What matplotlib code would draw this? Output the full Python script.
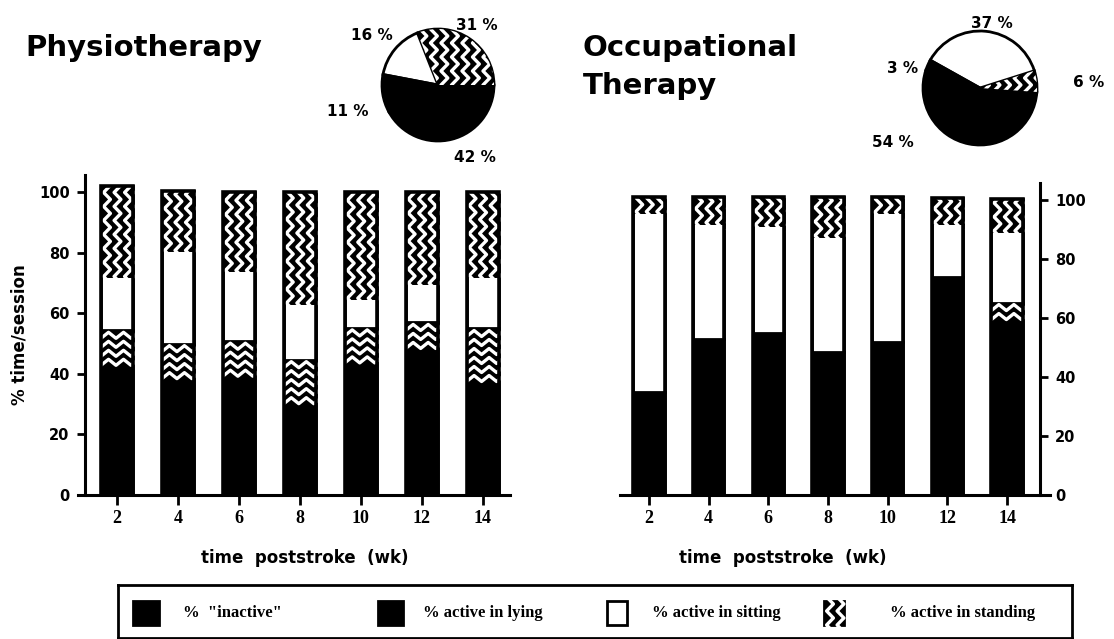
import matplotlib

matplotlib.use("Agg")

import matplotlib.pyplot as plt
import numpy as np
from matplotlib.lines import Line2D
from matplotlib.patches import Rectangle
from matplotlib.transforms import IdentityTransform

weeks = [2, 4, 6, 8, 10, 12, 14]
categories = ['%  "inactive"', "% active in lying", "% active in sitting", "% active in standing"]

# physiotherapy, % of session per category
pt_inactive = [44.0, 42.3, 41.4, 33.5, 45.6, 49.5, 39.6]
pt_lying = [10.4, 7.7, 9.4, 11.2, 9.6, 7.5, 15.4]
pt_sitting = [17.8, 30.8, 23.4, 18.7, 9.8, 13.0, 17.5]
pt_standing = [30.0, 19.5, 25.8, 36.6, 35.0, 30.0, 27.5]

# occupational therapy
ot_inactive = [35.0, 53.0, 55.0, 48.5, 52.0, 74.0, 60.5]
ot_lying = [0.0, 0.0, 0.0, 0.0, 0.0, 0.0, 4.7]
ot_sitting = [61.0, 39.3, 36.5, 39.4, 43.8, 18.3, 24.3]
ot_standing = [5.0, 8.7, 9.5, 13.0, 5.2, 8.3, 10.8]

# overall shares for the pies (same order as categories)
pt_share = [42, 11, 16, 31]
ot_share = [54, 3, 37, 6]

W, H = 1114, 639
fills = ["black", "black", "white", "black"]
patterns = [None, "rows", None, "cols"]
SANS = "DejaVu Sans"
SERIF = "Liberation Serif"

fig = plt.figure(figsize=(W / 100, H / 100), dpi=100)
to_pattern = []


def px_axes(x0, y0, x1, y1):
    # axes from pixel box (top-left origin)
    return fig.add_axes([x0 / W, 1 - y1 / H, (x1 - x0) / W, (y1 - y0) / H])


def stacked(ax, segments):
    bottom = np.zeros(len(weeks))
    for vals, fill, pat in zip(segments, fills, patterns):
        vals = np.asarray(vals)
        bars = ax.bar(weeks, vals, width=1.05, bottom=bottom, color=fill,
                      edgecolor="black", linewidth=2, zorder=2)
        if pat:
            for b, v in zip(bars, vals):
                if v > 0:
                    to_pattern.append((ax, b, pat))
        bottom = bottom + vals
    ax.bar(weeks, bottom, width=1.05, fill=False, edgecolor="black", linewidth=2.6, zorder=4)


def wavy(ax, patch, kind):
    bb = patch.get_window_extent()
    if kind == "cols":
        step, half, amp = 10.5, 7.0, 3.4
        for xc in np.arange(bb.x0 + 6, bb.x1 + step, step):
            ys = np.arange(bb.y0 - half, bb.y1 + 2 * half, half)
            xs = xc + amp * (-1.0) ** np.arange(len(ys))
            ln = Line2D(xs, ys, color="white", linewidth=2.4, transform=IdentityTransform(), zorder=3)
            ln.set_clip_path(patch)
            ax.add_artist(ln)
    else:
        step, half, amp = 9.0, 7.5, 3.0
        for yc in np.arange(bb.y1 - 5, bb.y0 - step, -step):
            xs = np.arange(bb.x0 - half, bb.x1 + 2 * half, half)
            ys = yc + amp * (-1.0) ** np.arange(len(xs))
            ln = Line2D(xs, ys, color="white", linewidth=2.4, transform=IdentityTransform(), zorder=3)
            ln.set_clip_path(patch)
            ax.add_artist(ln)


def style_axes(ax, side):
    ax.set_ylim(0, 105.7)
    ax.set_yticks([0, 20, 40, 60, 80, 100])
    ax.set_xticks(weeks)
    for s in ("top", "left", "right"):
        ax.spines[s].set_visible(False)
    ax.spines[side].set_visible(True)
    for s in ("bottom", side):
        ax.spines[s].set_linewidth(2.2)
    ax.tick_params(axis="x", length=7, width=2, pad=4)
    ax.tick_params(axis="y", length=6, width=2, pad=5)
    for t in ax.get_xticklabels():
        t.set_fontfamily(SERIF)
        t.set_fontweight("bold")
        t.set_fontsize(13)
    for t in ax.get_yticklabels():
        t.set_fontfamily(SANS)
        t.set_fontweight("bold")
        t.set_fontsize(10.5)


# left panel
ax1 = px_axes(78, 175, 510, 495)
stacked(ax1, [pt_inactive, pt_lying, pt_sitting, pt_standing])
ax1.set_xlim(0.72, 14.9)
ax1.spines["left"].set_position(("data", 0.95))
style_axes(ax1, "left")

# right panel
ax2 = px_axes(620, 183, 1050, 495)
stacked(ax2, [ot_inactive, ot_lying, ot_sitting, ot_standing])
ax2.set_xlim(1.03, 15.44)
ax2.spines["right"].set_position(("data", 15.1))
ax2.yaxis.tick_right()
style_axes(ax2, "right")

# axis labels
fig.text(20 / W, 1 - 335 / H, "% time/session", rotation=90, ha="center", va="center",
         fontfamily=SANS, fontweight="bold", fontsize=12)
fig.text(305 / W, 1 - 558 / H, "time  poststroke  (wk)", ha="center", va="center",
         fontfamily=SANS, fontweight="bold", fontsize=12)
fig.text(783 / W, 1 - 558 / H, "time  poststroke  (wk)", ha="center", va="center",
         fontfamily=SANS, fontweight="bold", fontsize=12)

# titles
fig.text(25 / W, 1 - 56 / H, "Physiotherapy", ha="left", va="baseline",
         fontfamily=SANS, fontweight="bold", fontsize=21)
fig.text(583 / W, 1 - 56 / H, "Occupational", ha="left", va="baseline",
         fontfamily=SANS, fontweight="bold", fontsize=21)
fig.text(583 / W, 1 - 94 / H, "Therapy", ha="left", va="baseline",
         fontfamily=SANS, fontweight="bold", fontsize=21)


def pie(cx, cy, r, shares, start, label_pos):
    pad = 1.1
    ax = px_axes(cx - r * pad, cy - r * pad, cx + r * pad, cy + r * pad)
    wedges, _ = ax.pie(shares[::-1], colors=fills[::-1], startangle=start, counterclock=True,
                       wedgeprops=dict(edgecolor="black", linewidth=2))
    ax.set_xlim(-pad, pad)
    ax.set_ylim(-pad, pad)
    ax.set_aspect("equal")
    # only the standing share carries the wavy fill in the pies
    to_pattern.append((ax, wedges[0], "cols"))
    for v, (lx, ly) in zip(shares, label_pos):
        ax.text(lx, ly, f"{v} %", ha="center", va="center", fontfamily=SANS,
                fontweight="bold", fontsize=11, clip_on=False)


pie(438, 85, 56, pt_share, 0, [(0.66, -1.3), (-1.62, -0.48), (-1.18, 0.89), (0.7, 1.07)])
pie(980, 88, 57, ot_share, -4, [(-1.53, -0.95), (-1.35, 0.35), (0.21, 1.14), (1.9, 0.09)])

# legend box
lax = px_axes(118, 585, 1072, 638)
lax.set_xlim(118, 1072)
lax.set_ylim(638, 585)
lax.set_xticks([])
lax.set_yticks([])
for s in lax.spines.values():
    s.set_linewidth(2)
sq_x = [133, 378, 607, 824]
sq_w = [26, 25, 20, 20]
txt_x = [183, 423, 652, 890]
for label, fill, pat, x, w, tx in zip(categories, fills, patterns, sq_x, sq_w, txt_x):
    sq = Rectangle((x, 601), w, 24, facecolor=fill, edgecolor="black", linewidth=2)
    lax.add_patch(sq)
    if pat == "cols":
        to_pattern.append((lax, sq, "cols"))
    lax.text(tx, 613, label, ha="left", va="center", fontfamily=SERIF,
             fontweight="bold", fontsize=12)

fig.canvas.draw()
for ax, patch, kind in to_pattern:
    wavy(ax, patch, kind)

fig.savefig("out.png", dpi=100)
plt.close(fig)
